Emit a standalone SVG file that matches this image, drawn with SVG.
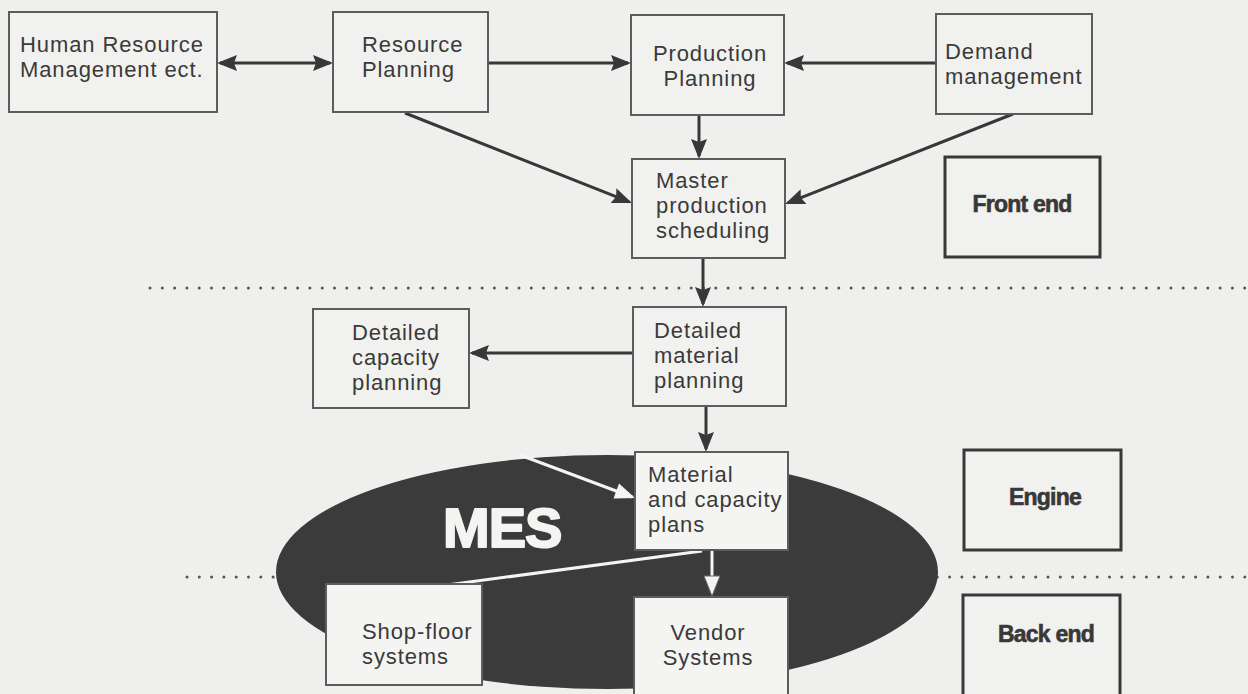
<svg xmlns="http://www.w3.org/2000/svg" width="1248" height="694" viewBox="0 0 1248 694">
<defs>
<style>
.box{fill:#f1f1ef;stroke:#5c5c5c;stroke-width:2}
.wbox{fill:#f4f4f2;stroke:#5c5c5c;stroke-width:2}
.lbox{fill:#f1f1ef;stroke:#383838;stroke-width:3}
.t{font-family:"Liberation Sans",Arial,sans-serif;font-size:22px;letter-spacing:0.9px;fill:#3a3a3a}
.tc{text-anchor:middle}
.b{font-family:"Liberation Sans",Arial,sans-serif;font-size:23px;font-weight:bold;fill:#383838;stroke:#383838;stroke-width:0.6;letter-spacing:-0.8px;text-anchor:middle}
.c{fill:none;stroke:#383838;stroke-width:3}
.w{fill:none;stroke:#f4f4f2;stroke-width:3}
.dot{stroke:#555;stroke-width:3;stroke-linecap:round;stroke-dasharray:0 12.3;fill:none}
</style>
<marker id="ah" markerUnits="userSpaceOnUse" viewBox="0 0 20 16" markerWidth="20" markerHeight="16" refX="17" refY="8" orient="auto-start-reverse"><path d="M0,0 L20,8 L0,16 L3,8 Z" fill="#383838"/></marker>
<marker id="wa" markerUnits="userSpaceOnUse" viewBox="0 0 20 16" markerWidth="20" markerHeight="16" refX="17" refY="8" orient="auto" overflow="visible"><path d="M0,0 L20,8 L0,16 Z" fill="#f4f4f2"/></marker>
<marker id="wo" markerUnits="userSpaceOnUse" viewBox="0 0 20 16" markerWidth="20" markerHeight="16" refX="17" refY="8" orient="auto" overflow="visible"><path d="M0,0 L20,8 L0,16 Z" fill="#f4f4f2" stroke="#6a6a6a" stroke-width="1"/></marker>
</defs>
<rect x="0" y="0" width="1248" height="694" fill="#efefed"/>
<g id="separators">
<line class="dot" x1="150" y1="288" x2="1248" y2="288"/>
<line class="dot" x1="187" y1="577" x2="1248" y2="577"/>
</g>
<g id="mes">
<ellipse cx="607" cy="572" rx="331" ry="117" fill="#3b3b3b"/>
<text x="443" y="547" font-family="'Liberation Sans',Arial,sans-serif" font-size="56" font-weight="bold" letter-spacing="-1" fill="#f4f4f2" stroke="#f4f4f2" stroke-width="2" stroke-linejoin="round">MES</text>
</g>
<g id="connectors">
<line class="c" x1="220" y1="63" x2="330" y2="63" marker-start="url(#ah)" marker-end="url(#ah)"/>
<line class="c" x1="488" y1="63" x2="628" y2="63" marker-end="url(#ah)"/>
<line class="c" x1="936" y1="63" x2="787" y2="63" marker-end="url(#ah)"/>
<line class="c" x1="405" y1="113" x2="629.2" y2="201.9" marker-end="url(#ah)"/>
<line class="c" x1="1013" y1="114" x2="787.8" y2="202.9" marker-end="url(#ah)"/>
<line class="c" x1="699" y1="115" x2="699" y2="156" marker-end="url(#ah)"/>
<line class="c" x1="703" y1="258" x2="703" y2="304" marker-end="url(#ah)"/>
<line class="c" x1="633" y1="353" x2="472" y2="353" marker-end="url(#ah)"/>
<line class="c" x1="706" y1="406" x2="706" y2="449" marker-end="url(#ah)"/>
<line class="w" x1="520" y1="455" x2="632.2" y2="497" marker-end="url(#wa)"/>
<line class="w" x1="702" y1="551" x2="447" y2="585"/>
<line class="w" x1="712" y1="551" x2="712" y2="593" marker-end="url(#wo)"/>
</g>
<g id="hr"><rect class="box" x="9" y="12" width="208" height="100"/><text class="t" x="20" y="52">Human Resource</text><text class="t" x="20" y="77">Management ect.</text></g>
<g id="rp"><rect class="box" x="333" y="12" width="155" height="100"/><text class="t" x="362" y="52">Resource</text><text class="t" x="362" y="77">Planning</text></g>
<g id="pp"><rect class="box" x="631" y="15" width="153" height="100"/><text class="t tc" x="710" y="61">Production</text><text class="t tc" x="710" y="86">Planning</text></g>
<g id="dm"><rect class="box" x="936" y="14" width="156" height="100"/><text class="t" x="945" y="59">Demand</text><text class="t" x="945" y="84">management</text></g>
<g id="mps"><rect class="box" x="632" y="159" width="153" height="99"/><text class="t" x="656" y="188">Master</text><text class="t" x="656" y="213">production</text><text class="t" x="656" y="238">scheduling</text></g>
<g id="frontend"><rect class="lbox" x="945" y="157" width="155" height="100"/><text class="b" x="1022" y="212">Front end</text></g>
<g id="dcp"><rect class="box" x="313" y="309" width="156" height="99"/><text class="t" x="352" y="340">Detailed</text><text class="t" x="352" y="365">capacity</text><text class="t" x="352" y="390">planning</text></g>
<g id="dmp"><rect class="box" x="633" y="307" width="153" height="99"/><text class="t" x="654" y="338">Detailed</text><text class="t" x="654" y="363">material</text><text class="t" x="654" y="388">planning</text></g>
<g id="mcp"><rect class="wbox" x="635" y="452" width="153" height="98"/><text class="t" x="648" y="482">Material</text><text class="t" x="648" y="507">and capacity</text><text class="t" x="648" y="532">plans</text></g>
<g id="engine"><rect class="lbox" x="964" y="450" width="157" height="100"/><text class="b" x="1045" y="505">Engine</text></g>
<g id="shop"><rect class="wbox" x="326" y="584" width="156" height="101"/><text class="t" x="362" y="639">Shop-floor</text><text class="t" x="362" y="664">systems</text></g>
<g id="vendor"><rect class="wbox" x="634" y="597" width="154" height="110"/><text class="t tc" x="708" y="640">Vendor</text><text class="t tc" x="708" y="665">Systems</text></g>
<g id="backend"><rect class="lbox" x="963" y="595" width="157" height="110"/><text class="b" x="1046" y="642">Back end</text></g>
</svg>
